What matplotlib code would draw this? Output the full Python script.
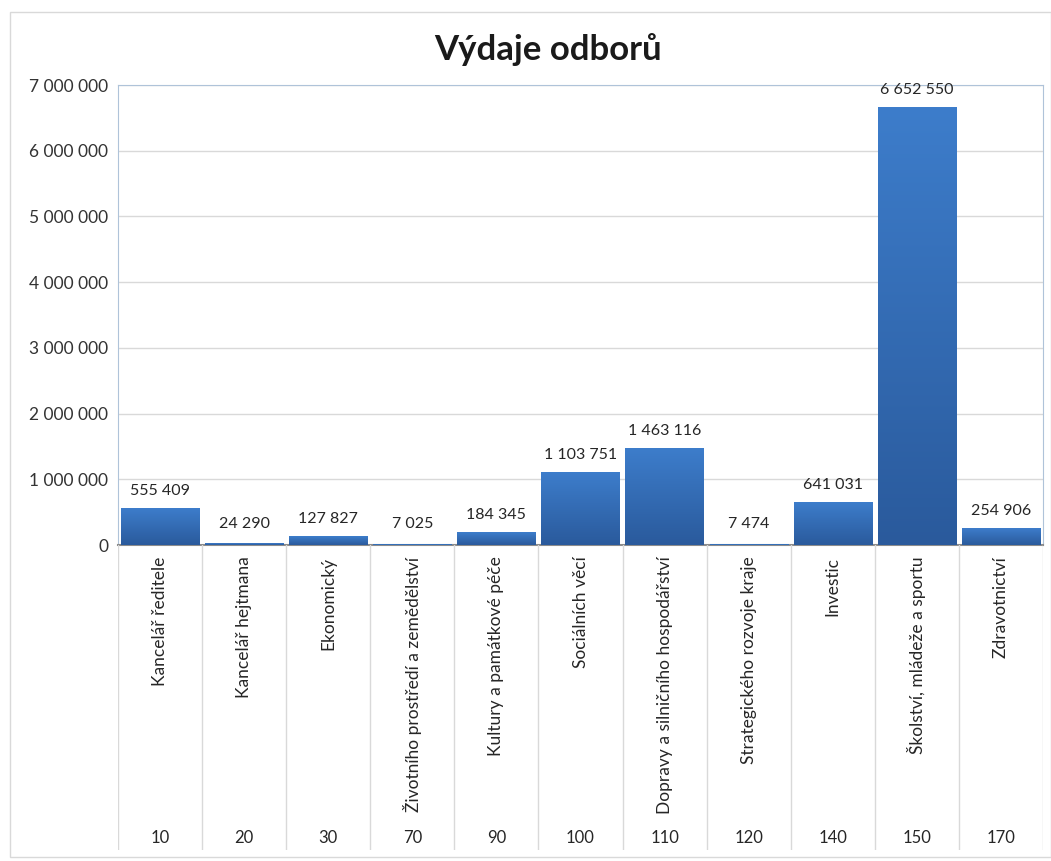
import matplotlib
matplotlib.use("Agg")
import matplotlib.pyplot as plt
from matplotlib.patches import Rectangle
import numpy as np

plt.rcParams["font.family"] = ["Lato", "DejaVu Sans"]

codes = ["10", "20", "30", "70", "90", "100", "110", "120", "140", "150", "170"]
names = [
    "Kancelář ředitele",
    "Kancelář hejtmana",
    "Ekonomický",
    "Životního prostředí a zemědělství",
    "Kultury a památkové péče",
    "Sociálních věcí",
    "Dopravy a silničního hospodářství",
    "Strategického rozvoje kraje",
    "Investic",
    "Školství, mládeže a sportu",
    "Zdravotnictví",
]
values = [555409, 24290, 127827, 7025, 184345, 1103751, 1463116, 7474, 641031, 6652550, 254906]
y_ticks = [0, 1000000, 2000000, 3000000, 4000000, 5000000, 6000000, 7000000]


def fmt(v):
    return f"{v:,}".replace(",", " ")


fig = plt.figure(figsize=(10.51, 8.61), dpi=100)
fig.patches.append(Rectangle((10 / 1051, 0.005), 1 - 10 / 1051, 0.981, transform=fig.transFigure,
                             fill=False, edgecolor="#D9D9D9", linewidth=1.0))

left, width = 118 / 1051, 925 / 1051
ax = fig.add_axes([left, 1 - 545 / 861, width, 460 / 861])
x = np.arange(len(values))
bars = ax.bar(x, values, width=0.93, color="#3470B8", zorder=2)

# vertical gradient on each bar, lighter at the top
grad = np.linspace(0, 1, 256).reshape(-1, 1)
cmap = matplotlib.colors.LinearSegmentedColormap.from_list("b", ["#2A5A9C", "#3D7DCB"])
for b in bars:
    bx, bw, bh = b.get_x(), b.get_width(), b.get_height()
    if bh <= 0:
        continue
    ax.imshow(grad, extent=(bx, bx + bw, 0, bh), origin="lower", aspect="auto",
              cmap=cmap, zorder=3)

ax.set_xlim(-0.5, len(values) - 0.5)
ax.set_ylim(0, 7000000)
ax.set_yticks(y_ticks)
ax.set_yticklabels([fmt(t) for t in y_ticks], fontsize=12.5, color="#333333")
ax.tick_params(axis="y", length=0, pad=7)
ax.set_xticks([])
ax.grid(axis="y", color="#D9D9D9", linewidth=1.0, zorder=0)
for s in ["top", "left", "right"]:
    ax.spines[s].set_color("#AFC3D9")
ax.spines["bottom"].set_color("#8C8C8C")
ax.spines["bottom"].set_linewidth(1.5)

for xi, v in zip(x, values):
    ax.text(xi, max(v, 60000) + 160000, fmt(v), ha="center", va="bottom",
            fontsize=11.5, color="#262626", zorder=4)

fig.suptitle("Výdaje odborů", x=0.521, y=0.962, fontsize=25, fontweight="bold", color="#1A1A1A")

# category label area below the plot
ax2 = fig.add_axes([left, 1 - 850 / 861, width, 305 / 861], sharex=ax)
ax2.set_ylim(0, 1)
ax2.axis("off")
for bnd in np.arange(-0.5, len(values), 1.0):
    ax2.plot([bnd, bnd], [0, 1], color="#D9D9D9", linewidth=1.0)
for xi, nm, cd in zip(x, names, codes):
    ax2.text(xi, 0.962, nm, rotation=90, ha="center", va="top", fontsize=12.5, color="#262626")
    ax2.text(xi, 0.04, cd, ha="center", va="center", fontsize=12, color="#262626")

fig.savefig("out.png", dpi=100)
